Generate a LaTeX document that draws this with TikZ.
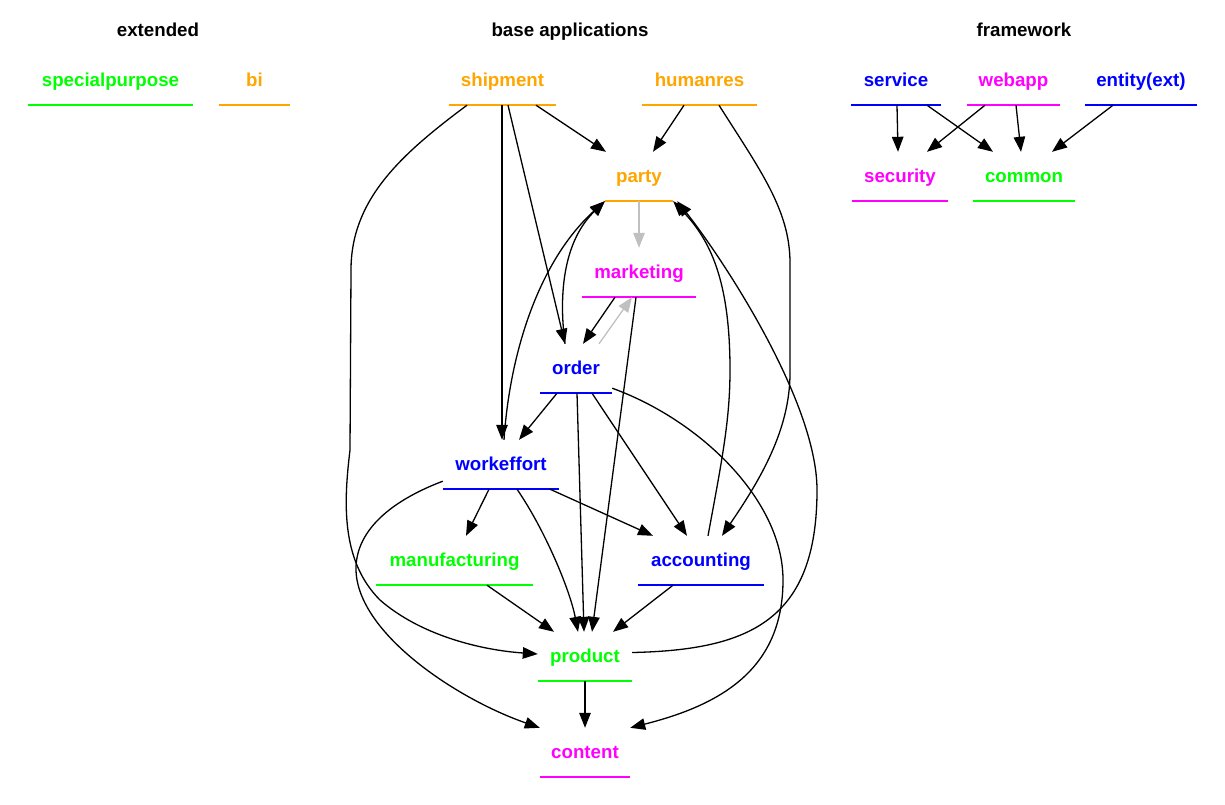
\documentclass[tikz,border=0pt]{standalone}
\usepackage{fontspec}
\setmainfont{Liberation Sans}
\usetikzlibrary{arrows.meta}
\definecolor{gvorange}{RGB}{255,165,0}
\definecolor{gvgreen}{RGB}{0,255,0}
\definecolor{gvblue}{RGB}{0,0,255}
\definecolor{gvmagenta}{RGB}{255,0,255}
\definecolor{gvgray}{RGB}{192,192,192}
\begin{document}
\begin{tikzpicture}[x=1pt,y=-1pt,
 font=\fontsize{18.7}{22}\selectfont\bfseries,
 pkg/.style 2 args={text=#1,minimum width=#2,minimum height=49pt,inner sep=0pt,
  text height=14pt,text depth=3pt},
 grp/.style={inner sep=0pt,text height=14pt,text depth=3pt},
 dep/.style={-{Triangle[length=15pt,width=11.5pt]},line width=1.3pt}]
 \useasboundingbox (0,0) rectangle (1225,804);
 \path
 (158,30.5) node[grp] (extended) {extended} % <<< cụm 1
 (110.5,80.5) node[pkg={gvgreen}{165pt}] (specialpurpose) {specialpurpose}
 (254.5,80.5) node[pkg={gvorange}{71pt}] (bi) {bi}
 (570,30.5) node[grp] (baseapps) {base applications} % <<< cụm 2
 (502.5,80.5) node[pkg={gvorange}{107pt}] (shipment) {shipment}
 (699.5,80.5) node[pkg={gvorange}{115pt}] (humanres) {humanres}
 (639,176.5) node[pkg={gvorange}{68pt}] (party) {party}
 (639,272.5) node[pkg={gvmagenta}{114pt}] (marketing) {marketing}
 (576,368.5) node[pkg={gvblue}{72pt}] (order) {order}
 (501,464.5) node[pkg={gvblue}{116pt}] (workeffort) {workeffort}
 (454.5,560.5) node[pkg={gvgreen}{157pt}] (manufacturing) {manufacturing}
 (701,560.5) node[pkg={gvblue}{126pt}] (accounting) {accounting}
 (585,656.5) node[pkg={gvgreen}{94pt}] (product) {product}
 (585,752.5) node[pkg={gvmagenta}{90pt}] (content) {content}
 (1024,30.5) node[grp] (framework) {framework} % <<< cụm 3
 (896,80.5) node[pkg={gvblue}{90pt}] (service) {service}
 (1013.5,80.5) node[pkg={gvmagenta}{93pt}] (webapp) {webapp}
 (1141,80.5) node[pkg={gvblue}{112pt}] (entity) {entity(ext)}
 (900,176.5) node[pkg={gvmagenta}{96pt}] (security) {security}
 (1024,176.5) node[pkg={gvgreen}{102pt}] (common) {common};
 % gạch chân
 \foreach \nd/\cl in {specialpurpose/gvgreen,bi/gvorange,shipment/gvorange,
  humanres/gvorange,party/gvorange,marketing/gvmagenta,order/gvblue,
  workeffort/gvblue,manufacturing/gvgreen,accounting/gvblue,product/gvgreen,
  content/gvmagenta,service/gvblue,webapp/gvmagenta,entity/gvblue,
  security/gvmagenta,common/gvgreen}
  \draw[draw=\cl,line width=1.5pt] (\nd.south west) -- (\nd.south east);
 \begin{scope}[dep]
 \draw ([xshift=33.5pt]shipment.south) -- ([xshift=-33pt]party.north);
 \draw ([xshift=-15.5pt]humanres.south) -- ([xshift=14pt]party.north);
 \draw ([xshift=-0.5pt]shipment.south) -- ([xshift=1pt]workeffort.north);
 \draw ([xshift=5.5pt]shipment.south) -- ([xshift=-11pt]order.north);
 \draw ([xshift=-35.5pt]shipment.south) .. controls (400,155) and (351,200) .. (351,270)
  -- (350,450) .. controls (344,500) and (340,560) .. (380,600)
  .. controls (420,635) and (480,650) .. ([yshift=2.5pt]product.west);
 \draw ([xshift=19.5pt]humanres.south) .. controls (760,170) and (790,210) .. (790,263)
  -- (790,373) .. controls (790,430) and (760,480) .. ([xshift=21pt]accounting.north);
 \draw[gvgray] (party.south) -- (marketing.north);
 \draw ([xshift=-24pt]marketing.south) -- ([xshift=7pt]order.north);
 \draw[gvgray] ([xshift=23pt]order.north) -- ([xshift=-7pt]marketing.south);
 \draw ([xshift=-3pt]marketing.south) -- ([xshift=7pt]product.north);
 \draw ([xshift=-11pt]order.north) .. controls (558,290) and (565,240) .. (party.south west);
 \draw ([xshift=3pt]workeffort.north) .. controls (510,350) and (540,260) .. (party.south west);
 \draw ([xshift=-19pt]order.south) -- ([xshift=18pt]workeffort.north);
 \draw ([xshift=1pt]order.south) -- ([xshift=-1pt]product.north);
 \draw ([xshift=16pt]order.south) -- ([xshift=-14pt]accounting.north);
 \draw ([yshift=5pt]order.south east) .. controls (700,420) and (783,500) .. (783,580)
  .. controls (783,670) and (720,705) .. (content.north east);
 \draw ([xshift=-12pt]workeffort.south) -- ([xshift=11.5pt]manufacturing.north);
 \draw ([xshift=16pt]workeffort.south) .. controls (545,530) and (570,590) .. ([xshift=-7pt]product.north);
 \draw ([xshift=49pt]workeffort.south) -- ([xshift=-48pt]accounting.north);
 \draw ([yshift=8pt]workeffort.south west) .. controls (380,505) and (350,540) .. (357,580)
  .. controls (368,640) and (460,700) .. (content.north west);
 \draw ([xshift=32.5pt]manufacturing.south) -- ([xshift=-31pt]product.north);
 \draw ([xshift=-28pt]accounting.south) -- ([xshift=28pt]product.north);
 \draw ([xshift=7pt]accounting.north) .. controls (722,460) and (730,420) .. (730,370)
  .. controls (730,280) and (710,240) .. (party.south east);
 \draw ([yshift=4pt]product.east) .. controls (750,650) and (817,620) .. (817,490)
  .. controls (817,400) and (720,255) .. ([xshift=4pt]party.south east);
 \draw (product.south) -- (content.north);
 \draw ([xshift=1pt]service.south) -- ([xshift=-2pt]security.north);
 \draw ([xshift=31pt]service.south) -- ([xshift=-31pt]common.north);
 \draw ([xshift=-28.5pt]webapp.south) -- ([xshift=27pt]security.north);
 \draw ([xshift=2.5pt]webapp.south) -- ([xshift=-3pt]common.north);
 \draw ([xshift=-28pt]entity.south) -- ([xshift=28pt]common.north);
 \end{scope}
\end{tikzpicture}
\end{document}
